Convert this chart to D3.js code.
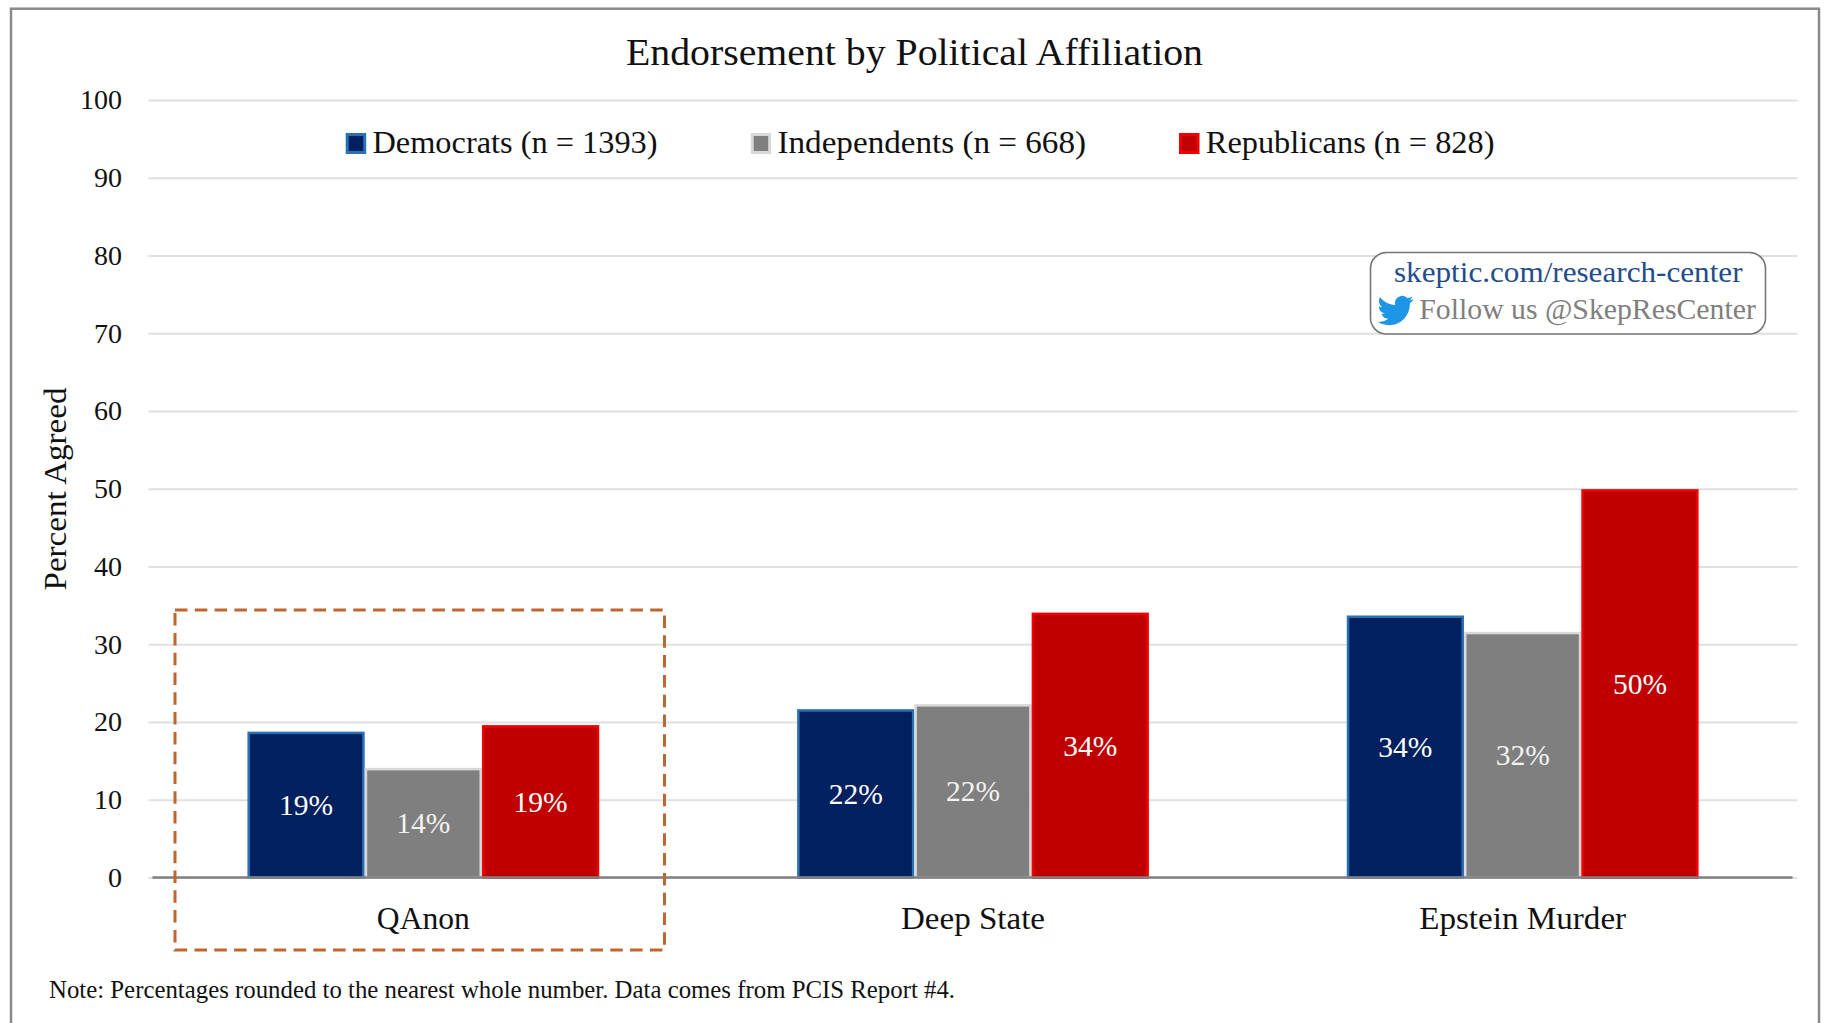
<!DOCTYPE html>
<html lang="en">

<head>
    <meta charset="UTF-8">
    <title>Endorsement by Political Affiliation</title>
    <script src="https://d3js.org/d3.v7.min.js"></script>
    <style>
        body { margin: 0; background: #fff; }
        text { font-family: "Liberation Serif", serif; }
    </style>
</head>

<body>
    <script>
        // values
        const categories = ["QAnon", "Deep State", "Epstein Murder"];
        const democrats = [18.76, 21.65, 33.7];
        const independents = [14.1, 22.3, 31.6];
        const republicans = [19.6, 34.07, 49.95];
        const democratLabels = ["19%", "22%", "34%"];
        const independentLabels = ["14%", "22%", "32%"];
        const republicanLabels = ["19%", "34%", "50%"];
        const seriesNames = ["Democrats (n = 1393)", "Independents (n = 668)", "Republicans (n = 828)"];
        const yTicks = [0, 10, 20, 30, 40, 50, 60, 70, 80, 90, 100];

        const fills = ["#002060", "#7f7f7f", "#c00000"];
        const borders = ["#2a70b5", "#d9d9d9", "#f00000"];

        const chartWidth = 1825, chartHeight = 1023;
        const plotLeft = 148.5, plotRight = 1797.5, plotTop = 100, plotBottom = 877.5;

        const svg = d3.select("body").append("svg")
            .attr("width", chartWidth)
            .attr("height", chartHeight)
            .style("display", "block");

        // text helper, the original face is wider than Liberation so stretch to the measured width
        function fit(sel, w) {
            return sel.attr("textLength", w).attr("lengthAdjust", "spacingAndGlyphs");
        }

        // outer frame, runs off the bottom of the image
        svg.append("rect")
            .attr("x", 11).attr("y", 8.7)
            .attr("width", 1808).attr("height", 1100)
            .attr("fill", "none")
            .attr("stroke", "#8a8a8a")
            .attr("stroke-width", 2.5);

        // scales
        const y = d3.scaleLinear().domain([0, 100]).range([plotBottom, plotTop]);
        const x = d3.scaleBand().domain(categories).range([plotLeft, plotRight])
            .paddingInner(0.36).paddingOuter(0.18);
        const x1 = d3.scaleBand().domain(d3.range(3)).range([0, x.bandwidth()]);

        // y axis + grid
        const yAxis = svg.append("g")
            .attr("transform", `translate(${plotLeft},0)`)
            .call(d3.axisLeft(y).tickValues(yTicks).tickSize(-(plotRight - plotLeft)).tickPadding(26.5));
        yAxis.select(".domain").remove();
        yAxis.selectAll("line").attr("stroke", "#e0e0e0").attr("stroke-width", 1.8);
        yAxis.selectAll("text")
            .attr("fill", "#111")
            .style("font-size", "28px");

        // bars
        const series = [
            { values: democrats, labels: democratLabels },
            { values: independents, labels: independentLabels },
            { values: republicans, labels: republicanLabels }
        ];
        series.forEach((s, i) => {
            const g = svg.append("g");
            g.selectAll("rect")
                .data(categories)
                .enter()
                .append("rect")
                .attr("x", d => x(d) + x1(i) + 1.25)
                .attr("y", (d, j) => y(s.values[j]) + 1.25)
                .attr("width", x1.bandwidth() - 2.5)
                .attr("height", (d, j) => plotBottom - y(s.values[j]) - 1.25)
                .attr("fill", fills[i])
                .attr("stroke", borders[i])
                .attr("stroke-width", 2.5);
            g.selectAll("text")
                .data(categories)
                .enter()
                .append("text")
                .attr("x", d => x(d) + x1(i) + x1.bandwidth() / 2)
                .attr("y", (d, j) => (y(s.values[j]) + plotBottom) / 2)
                .attr("dy", "0.36em")
                .attr("text-anchor", "middle")
                .attr("fill", i == 1 ? "#f2f2f2" : "#fff")
                .style("font-size", "29.5px")
                .text((d, j) => s.labels[j]);
        });

        // baseline and category labels
        const xAxis = svg.append("g")
            .attr("transform", `translate(0,${plotBottom})`)
            .call(d3.axisBottom(x).tickSize(0).tickPadding(29));
        xAxis.select(".domain").remove();
        xAxis.selectAll("text")
            .attr("fill", "#111")
            .style("font-size", "31px");
        const catWidths = [93, 144, 207];
        xAxis.selectAll("text").each(function (d, i) { fit(d3.select(this), catWidths[i]); });

        svg.append("line")
            .attr("x1", 152.5).attr("x2", 1792.5)
            .attr("y1", plotBottom).attr("y2", plotBottom)
            .attr("stroke", "#7f7f7f")
            .attr("stroke-width", 2.6);

        // title
        fit(svg.append("text")
            .attr("x", 914.5).attr("y", 65)
            .attr("text-anchor", "middle")
            .attr("fill", "#111")
            .style("font-size", "38px")
            .text("Endorsement by Political Affiliation"), 577);

        // y title
        fit(svg.append("text")
            .attr("transform", "translate(65.5,489) rotate(-90)")
            .attr("text-anchor", "middle")
            .attr("fill", "#111")
            .style("font-size", "32px")
            .text("Percent Agreed"), 203);

        // legend
        const legendX = [345.7, 750.7, 1179];
        const legendWidths = [285, 308.5, 288.7];
        seriesNames.forEach((name, i) => {
            svg.append("rect")
                .attr("x", legendX[i] + 1.5).attr("y", 134.5)
                .attr("width", 17.5).attr("height", 18)
                .attr("fill", fills[i])
                .attr("stroke", borders[i])
                .attr("stroke-width", 3);
            fit(svg.append("text")
                .attr("x", legendX[i] + 26.8).attr("y", 153)
                .attr("fill", "#111")
                .style("font-size", "32.5px")
                .text(name), legendWidths[i]);
        });

        // callout box
        svg.append("rect")
            .attr("x", 1370.5).attr("y", 252.5)
            .attr("width", 395).attr("height", 81.5)
            .attr("rx", 16)
            .attr("fill", "#fff")
            .attr("stroke", "#757575")
            .attr("stroke-width", 1.6);
        fit(svg.append("text")
            .attr("x", 1394).attr("y", 281.5)
            .attr("fill", "#1f4e8c")
            .style("font-size", "30px")
            .text("skeptic.com/research-center"), 348.5);
        fit(svg.append("text")
            .attr("x", 1419.3).attr("y", 319)
            .attr("fill", "#7f7f7f")
            .style("font-size", "30px")
            .text("Follow us @SkepResCenter"), 336.5);
        svg.append("path")
            .attr("transform", "translate(1377.5,292.5) scale(1.5)")
            .attr("fill", "#1d96e8")
            .attr("d", "M23.953 4.57a10 10 0 01-2.825.775 4.958 4.958 0 002.163-2.723c-.951.555-2.005.959-3.127 1.184a4.92 4.92 0 00-8.384 4.482C7.69 8.095 4.067 6.13 1.64 3.162a4.822 4.822 0 00-.666 2.475c0 1.71.87 3.213 2.188 4.096a4.904 4.904 0 01-2.228-.616v.06a4.923 4.923 0 003.946 4.827 4.996 4.996 0 01-2.212.085 4.936 4.936 0 004.604 3.417 9.867 9.867 0 01-6.102 2.105c-.39 0-.779-.023-1.17-.067a13.995 13.995 0 007.557 2.209c9.053 0 13.998-7.496 13.998-13.985 0-.21 0-.42-.015-.63A9.935 9.935 0 0024 4.59z");

        // dashed highlight round QAnon
        svg.append("rect")
            .attr("x", 175).attr("y", 610)
            .attr("width", 489.5).attr("height", 340)
            .attr("fill", "none")
            .attr("stroke", "#c0652d")
            .attr("stroke-width", 3)
            .attr("stroke-dasharray", "12.5 7.3");

        // note
        fit(svg.append("text")
            .attr("x", 49).attr("y", 998)
            .attr("fill", "#111")
            .style("font-size", "25px")
            .text("Note: Percentages rounded to the nearest whole number. Data comes from PCIS Report #4."), 906);
    </script>
</body>

</html>
